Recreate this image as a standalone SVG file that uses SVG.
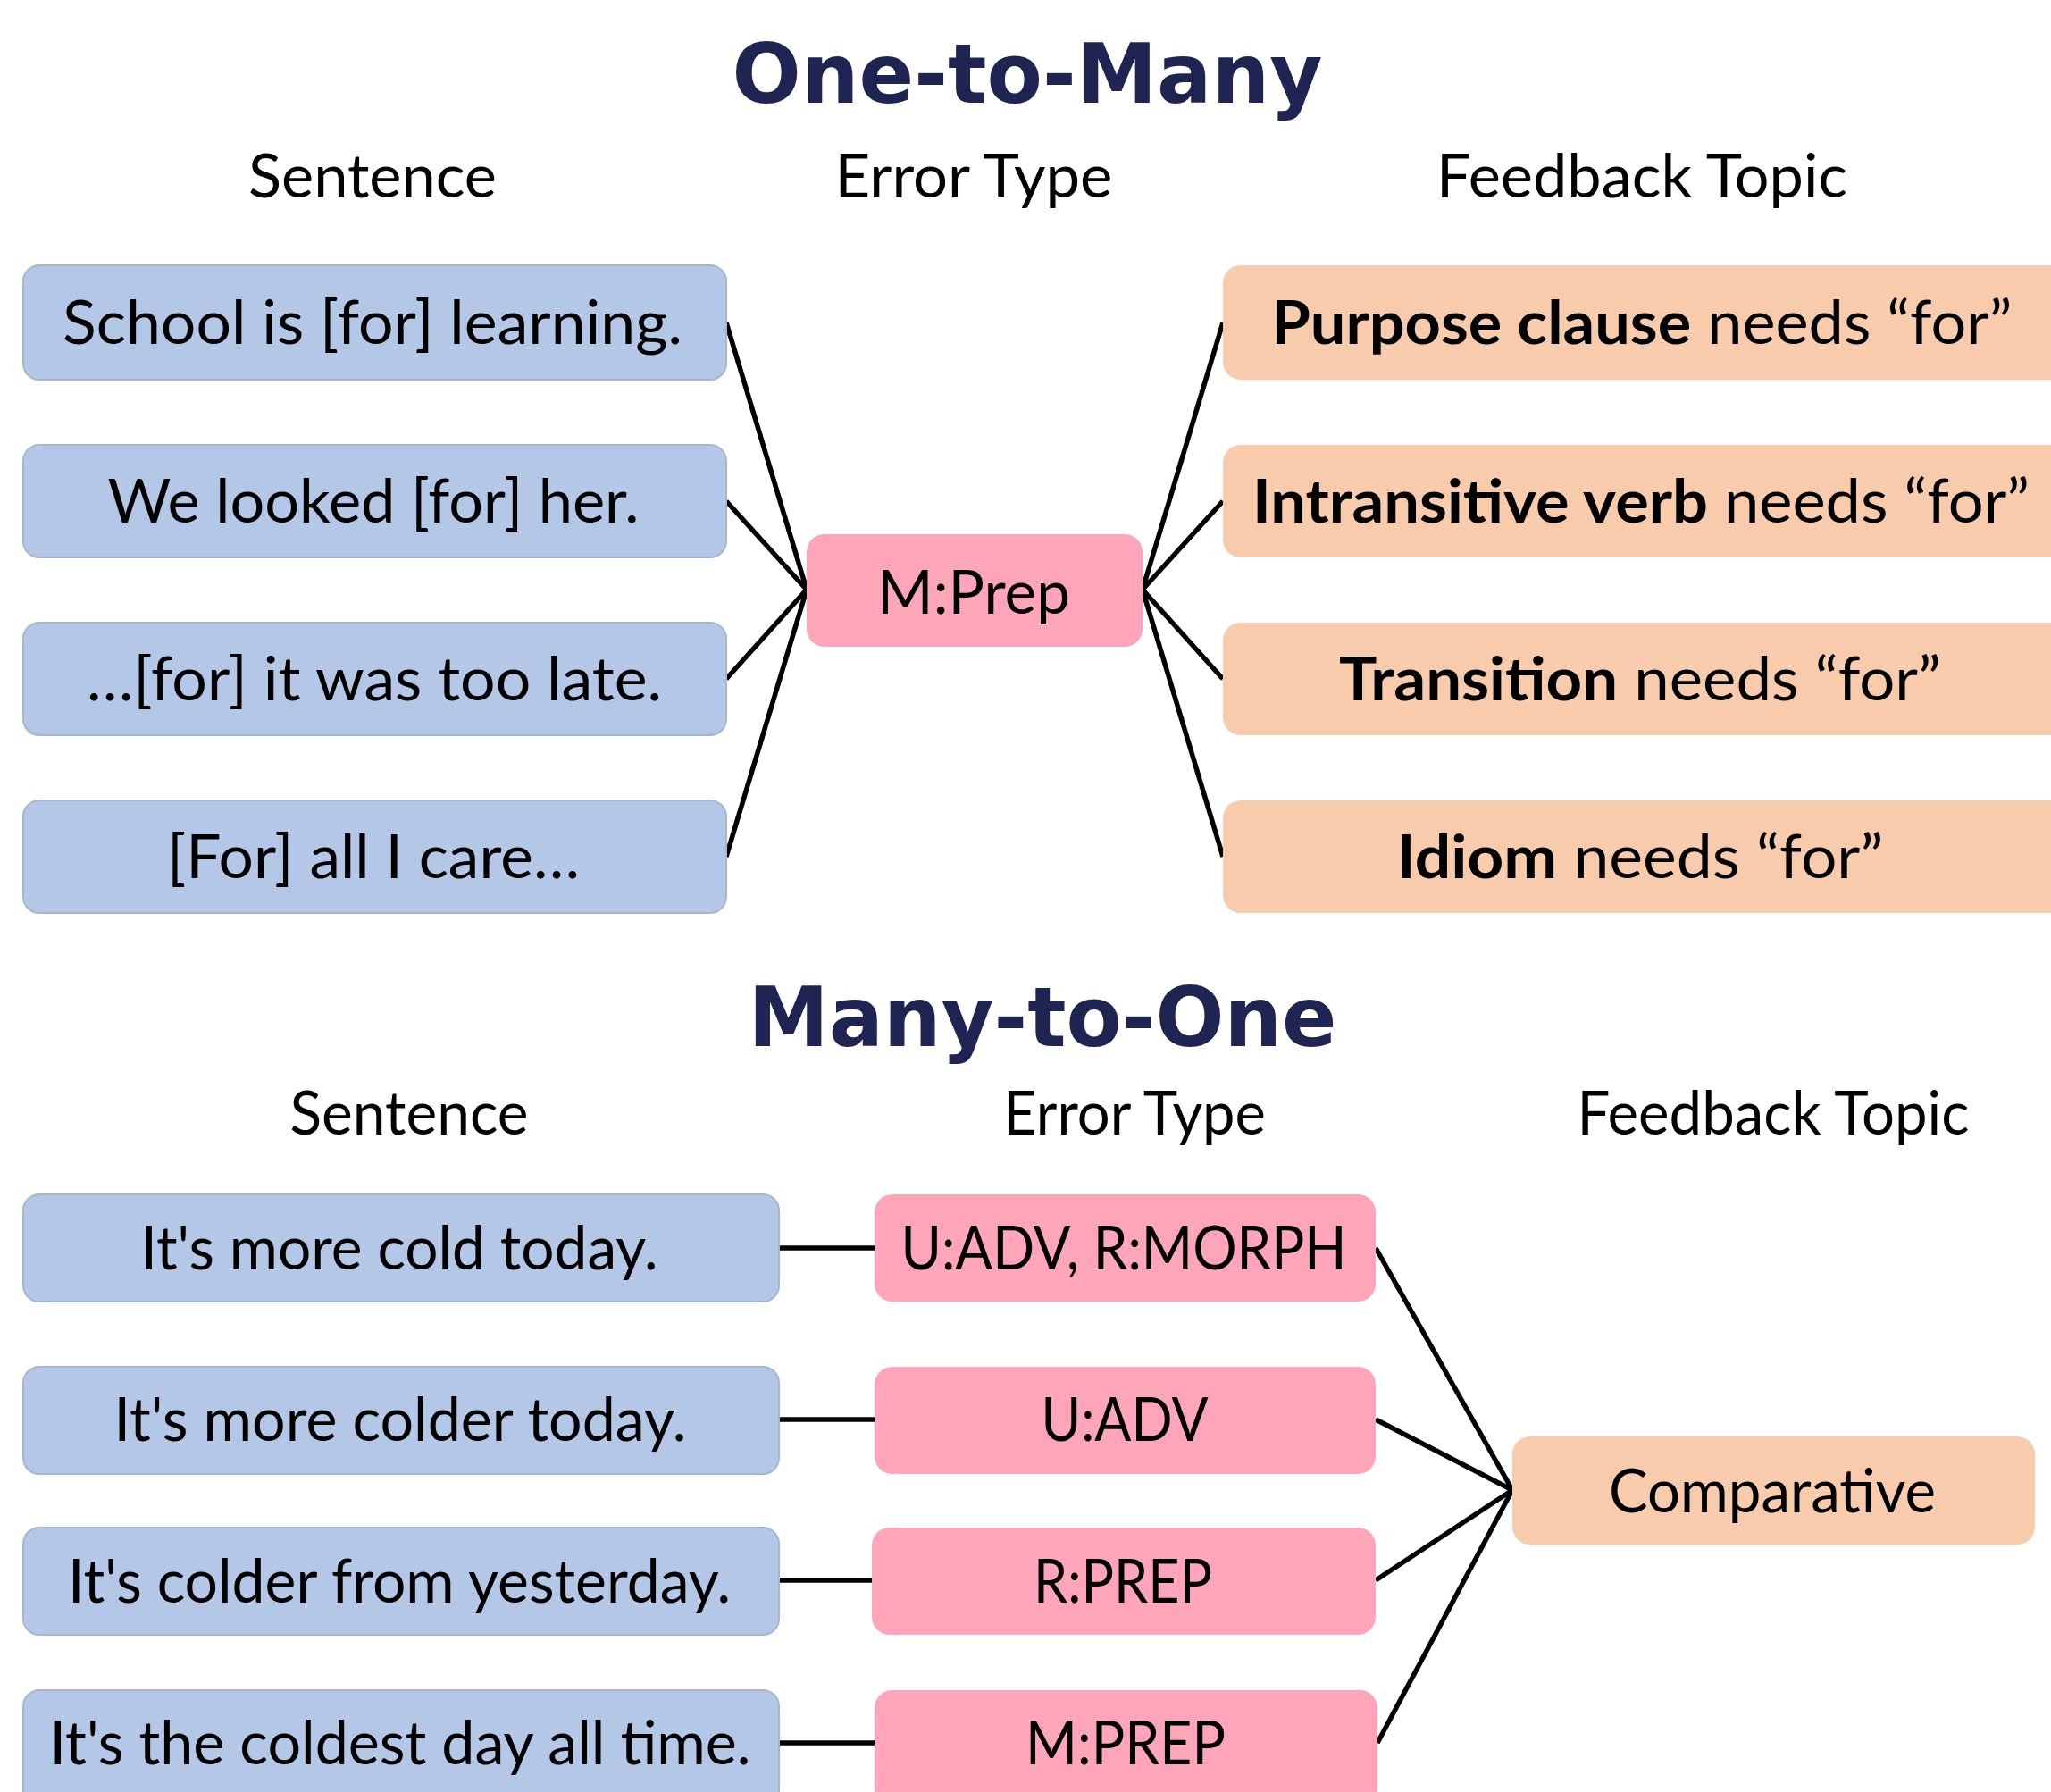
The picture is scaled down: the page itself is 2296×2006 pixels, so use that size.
<svg xmlns="http://www.w3.org/2000/svg" width="2296" height="2006" viewBox="0 0 2296 2006">
<style>
.title{font-family:"DejaVu Sans",Verdana,sans-serif;font-weight:bold;font-size:92px;fill:#1f2452;text-anchor:middle}
.hdr{font-family:Lato,"Liberation Sans",sans-serif;font-size:67px;fill:#000;text-anchor:middle}
.t{font-family:Lato,"Liberation Sans",sans-serif;font-size:67px;fill:#000;text-anchor:middle}
.b{font-weight:bold}
.sent{fill:#b4c7e7;stroke:#a7b6cf;stroke-width:2}
.err{fill:#ffa5ba}
.fb{fill:#f8cbad}
.conn line{stroke:#000;stroke-width:5.5;stroke-linecap:butt}
</style>
<rect width="2296" height="2006" fill="#fff"/>
<g id="labels">
<text class="title" x="1150" y="115" textLength="661" lengthAdjust="spacingAndGlyphs">One-to-Many</text>
<text class="hdr" x="417" y="221" textLength="278" lengthAdjust="spacingAndGlyphs">Sentence</text>
<text class="hdr" x="1090" y="221" textLength="311" lengthAdjust="spacingAndGlyphs">Error Type</text>
<text class="hdr" x="1838" y="221" textLength="460" lengthAdjust="spacingAndGlyphs">Feedback Topic</text>
<text class="title" x="1167" y="1171" textLength="659" lengthAdjust="spacingAndGlyphs">Many-to-One</text>
<text class="hdr" x="458" y="1270" textLength="267" lengthAdjust="spacingAndGlyphs">Sentence</text>
<text class="hdr" x="1270" y="1270" textLength="294" lengthAdjust="spacingAndGlyphs">Error Type</text>
<text class="hdr" x="1985" y="1270" textLength="439" lengthAdjust="spacingAndGlyphs">Feedback Topic</text>
</g>
<g id="connectors" class="conn">
<line x1="813" y1="361" x2="903" y2="660"/>
<line x1="813" y1="561" x2="903" y2="660"/>
<line x1="813" y1="760" x2="903" y2="660"/>
<line x1="813" y1="959" x2="903" y2="660"/>
<line x1="1279" y1="660" x2="1369" y2="361"/>
<line x1="1279" y1="660" x2="1369" y2="561"/>
<line x1="1279" y1="660" x2="1369" y2="760"/>
<line x1="1279" y1="660" x2="1369" y2="959"/>
<line x1="873" y1="1397" x2="979" y2="1397"/>
<line x1="873" y1="1589" x2="979" y2="1589"/>
<line x1="873" y1="1769" x2="977" y2="1769"/>
<line x1="873" y1="1951" x2="979" y2="1951"/>
<line x1="1540" y1="1397" x2="1693" y2="1668"/>
<line x1="1540" y1="1589" x2="1693" y2="1668"/>
<line x1="1540" y1="1769" x2="1693" y2="1668"/>
<line x1="1542" y1="1951" x2="1693" y2="1668"/>
</g>
<g id="s1"><rect class="sent" x="26" y="297" width="787" height="128" rx="18"/><text class="t" x="417" y="385" textLength="694" lengthAdjust="spacingAndGlyphs">School is [for] learning.</text></g>
<g id="s2"><rect class="sent" x="26" y="498" width="787" height="126" rx="18"/><text class="t" x="418" y="585" textLength="595" lengthAdjust="spacingAndGlyphs">We looked [for] her.</text></g>
<g id="s3"><rect class="sent" x="26" y="697" width="787" height="126" rx="18"/><text class="t" x="419" y="784" textLength="644" lengthAdjust="spacingAndGlyphs">…[for] it was too late.</text></g>
<g id="s4"><rect class="sent" x="26" y="896" width="787" height="126" rx="18"/><text class="t" x="418" y="983" textLength="462" lengthAdjust="spacingAndGlyphs">[For] all I care…</text></g>
<g id="mprep"><rect class="err" x="903" y="598" width="376" height="126" rx="20"/><text class="t" x="1090" y="687" textLength="216" lengthAdjust="spacingAndGlyphs">M:Prep</text></g>
<g id="f1"><rect class="fb" x="1369" y="297" width="945" height="128" rx="20"/><text class="t" x="1838" y="385" textLength="829" lengthAdjust="spacingAndGlyphs"><tspan class="b">Purpose clause</tspan> needs “for”</text></g>
<g id="f2"><rect class="fb" x="1369" y="498" width="945" height="126" rx="20"/><text class="t" x="1837" y="585" textLength="870" lengthAdjust="spacingAndGlyphs"><tspan class="b">Intransitive verb</tspan> needs “for”</text></g>
<g id="f3"><rect class="fb" x="1369" y="697" width="945" height="126" rx="20"/><text class="t" x="1836" y="784" textLength="674" lengthAdjust="spacingAndGlyphs"><tspan class="b">Transition</tspan> needs “for”</text></g>
<g id="f4"><rect class="fb" x="1369" y="896" width="945" height="126" rx="20"/><text class="t" x="1836" y="983" textLength="545" lengthAdjust="spacingAndGlyphs"><tspan class="b">Idiom</tspan> needs “for”</text></g>
<g id="b1"><rect class="sent" x="26" y="1337" width="846" height="120" rx="18"/><text class="t" x="447" y="1421" textLength="579" lengthAdjust="spacingAndGlyphs">It's more cold today.</text></g>
<g id="b2"><rect class="sent" x="26" y="1530" width="846" height="120" rx="18"/><text class="t" x="448" y="1613" textLength="641" lengthAdjust="spacingAndGlyphs">It's more colder today.</text></g>
<g id="b3"><rect class="sent" x="26" y="1710" width="846" height="120" rx="18"/><text class="t" x="447" y="1794" textLength="742" lengthAdjust="spacingAndGlyphs">It's colder from yesterday.</text></g>
<g id="b4"><rect class="sent" x="26" y="1892" width="846" height="130" rx="18"/><text class="t" x="448" y="1975" textLength="785" lengthAdjust="spacingAndGlyphs">It's the coldest day all time.</text></g>
<g id="e1"><rect class="err" x="979" y="1337" width="561" height="120" rx="20"/><text class="t" x="1258" y="1421" textLength="499" lengthAdjust="spacingAndGlyphs">U:ADV, R:MORPH</text></g>
<g id="e2"><rect class="err" x="979" y="1530" width="561" height="120" rx="20"/><text class="t" x="1259" y="1613" textLength="187" lengthAdjust="spacingAndGlyphs">U:ADV</text></g>
<g id="e3"><rect class="err" x="976" y="1710" width="564" height="120" rx="20"/><text class="t" x="1257" y="1794" textLength="200" lengthAdjust="spacingAndGlyphs">R:PREP</text></g>
<g id="e4"><rect class="err" x="979" y="1892" width="563" height="130" rx="20"/><text class="t" x="1260" y="1975" textLength="224" lengthAdjust="spacingAndGlyphs">M:PREP</text></g>
<g id="comparative"><rect class="fb" x="1693" y="1608" width="585" height="121" rx="20"/><text class="t" x="1984" y="1693" textLength="366" lengthAdjust="spacingAndGlyphs">Comparative</text></g>
</svg>
